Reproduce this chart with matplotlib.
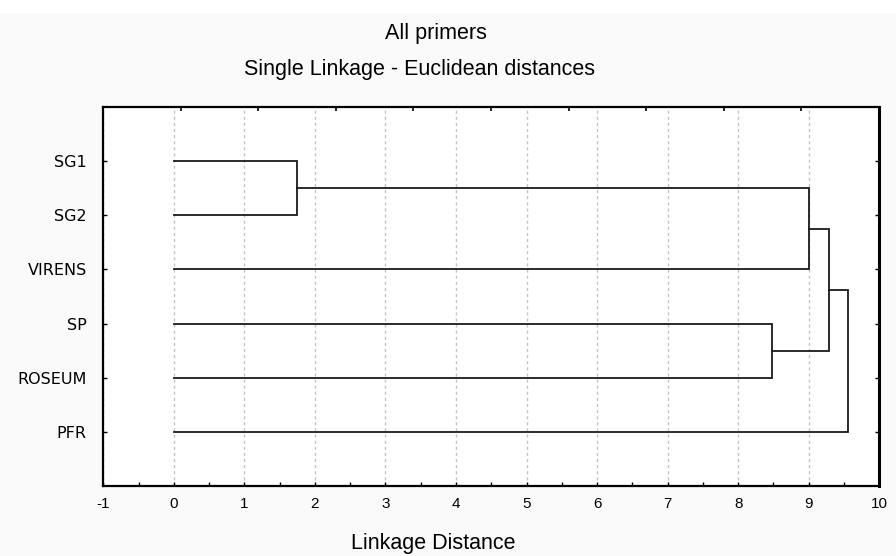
import matplotlib
matplotlib.use("Agg")
import matplotlib.pyplot as plt
from matplotlib.ticker import MultipleLocator
from matplotlib.patches import Rectangle

plt.rcParams['font.family'] = ['Liberation Sans', 'DejaVu Sans']

# ---- data ----
labels = ['SG1', 'SG2', 'VIRENS', 'SP', 'ROSEUM', 'PFR']
# merges: (cluster a, cluster b, linkage distance); new clusters numbered from len(labels)
merge_a = [0, 6, 3, 7, 9]
merge_b = [1, 2, 4, 8, 5]
merge_h = [1.74, 9.0, 8.48, 9.28, 9.55]
x_ticks = list(range(-1, 11))
title1 = 'All primers'
title2 = 'Single Linkage - Euclidean distances'
xlabel = 'Linkage Distance'

W, H = 896, 556
fig = plt.figure(figsize=(W / 100, H / 100), dpi=100, facecolor='#fafafa')
fig.patches.append(Rectangle((0, 1 - 13 / H), 1, 13 / H, transform=fig.transFigure,
                             facecolor='white', edgecolor='none', zorder=0))

ax = fig.add_axes([103.3 / W, 1 - 486 / H, (879.3 - 103.3) / W, (486 - 107) / H])
ax.set_facecolor('white')

# positions of clusters
pos_x = {i: 0.0 for i in range(len(labels))}
pos_y = {i: float(i + 1) for i in range(len(labels))}
lc = '#1a1a1a'
for k, (a, b, h) in enumerate(zip(merge_a, merge_b, merge_h)):
    ax.plot([pos_x[a], h, h, pos_x[b]], [pos_y[a], pos_y[a], pos_y[b], pos_y[b]],
            color=lc, lw=1.3, solid_joinstyle='miter', zorder=3)
    new = len(labels) + k
    pos_x[new] = h
    pos_y[new] = (pos_y[a] + pos_y[b]) / 2

ax.set_xlim(-1, 10)
ax.set_ylim(len(labels) + 1, 0)

ax.set_xticks(x_ticks)
ax.set_xticklabels([str(t) for t in x_ticks])
ax.xaxis.set_minor_locator(MultipleLocator(0.5))
ax.set_yticks(range(1, len(labels) + 1))
ax.set_yticklabels(labels)

ax.tick_params(axis='x', which='both', direction='in', length=3, width=1, pad=8,
               labelsize=11, top=False, bottom=True)
ax.tick_params(axis='y', which='both', direction='in', length=3, width=1, pad=12,
               left=True, right=True)
for lab in ax.get_yticklabels():
    lab.set_fontfamily(['DejaVu Sans'])
    lab.set_fontsize(11.5)

ax.grid(True, axis='x', which='major', color='#c4c4c4', linestyle=(0, (2.2, 2.2)), lw=1, zorder=1)

for s in ax.spines.values():
    s.set_linewidth(1.6)
    s.set_color('black')
ax.spines['right'].set_linewidth(2.2)

# top ticks (offset scale, as in the reference)
axt = ax.twiny()
axt.set_xlim(ax.get_xlim())
top_positions = [0.095 + 1.1 * k for k in range(9)]
axt.set_xticks(top_positions)
axt.set_xticklabels([])
axt.tick_params(axis='x', direction='in', length=3, width=1.2)
for s in axt.spines.values():
    s.set_visible(False)

fig.text(436 / W, 1 - 33 / H, title1, ha='center', va='center', fontsize=15.5)
fig.text(419 / W, 1 - 70 / H, title2, ha='center', va='center', fontsize=15.5)
fig.text(433 / W, 1 - 543 / H, xlabel, ha='center', va='center', fontsize=15.5)

fig.savefig('out.png', dpi=100, facecolor=fig.get_facecolor())
